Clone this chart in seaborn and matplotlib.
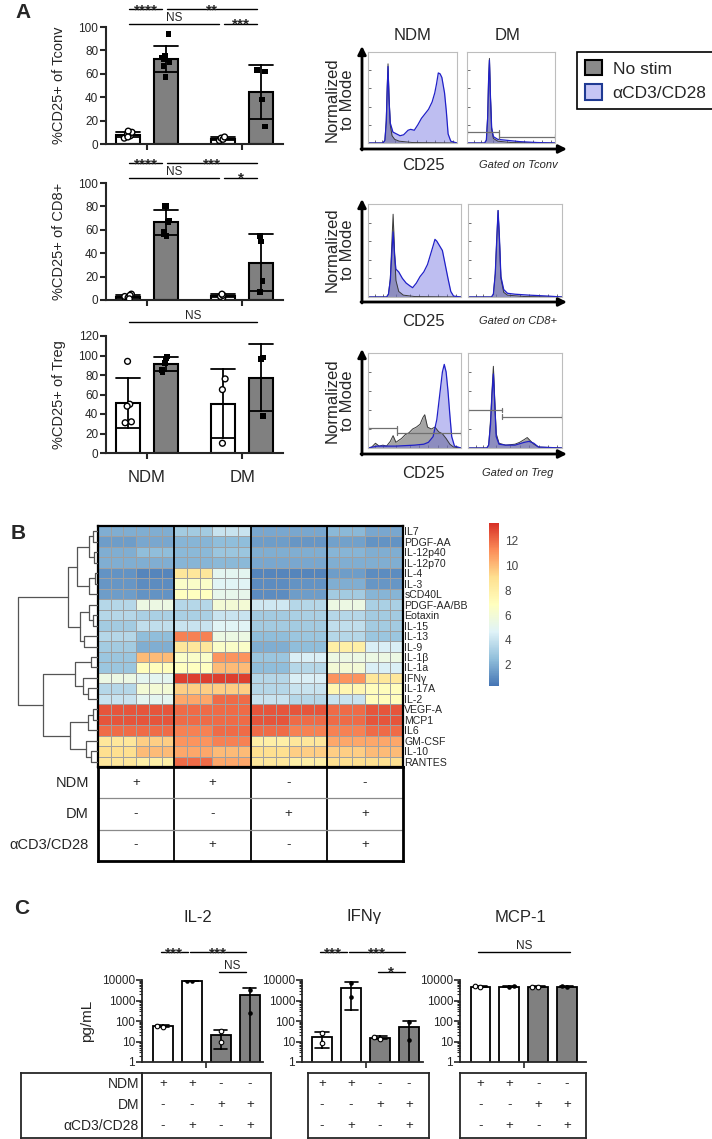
import numpy as np
import pandas as pd
import matplotlib
matplotlib.use("Agg")
import matplotlib.pyplot as plt
import matplotlib.transforms as mtrans
from matplotlib.colors import LinearSegmentedColormap
from matplotlib.patches import Patch
from matplotlib.ticker import FuncFormatter, LogLocator, NullFormatter
import seaborn as sns

# ---------------- data : panel A bars ----------------
groups = ["NDM", "DM"]
stims = ["No stim", "αCD3/CD28"]

tconv_ndm_nostim = [5, 7, 8, 9, 10, 11, 6]
tconv_ndm_stim = [94, 75, 74, 73, 70, 67, 57]
tconv_dm_nostim = [3, 5, 4, 6]
tconv_dm_stim = [62, 63, 38, 15]

cd8_ndm_nostim = [1, 2, 5, 3, 2, 4, 1]
cd8_ndm_stim = [80, 80, 68, 67, 56, 55, 58]
cd8_dm_nostim = [2, 3, 4, 5]
cd8_dm_stim = [50, 55, 16, 7]

treg_ndm_nostim = [94, 50, 48, 32, 31]
treg_ndm_stim = [99, 97, 92, 85, 83]
treg_dm_nostim = [76, 65, 10]
treg_dm_stim = [98, 96, 38]

# ---------------- data : panel A flow histograms (fraction of box) ----------------
tconv_ndm_gray_x = [0, 0.17, 0.19, 0.205, 0.215, 0.225, 0.235, 0.25, 0.27, 0.3, 0.35, 0.5, 1.0]
tconv_ndm_gray_y = [0, 0, 0.03, 0.25, 0.6, 0.87, 0.55, 0.2, 0.08, 0.04, 0.02, 0.005, 0]
tconv_ndm_blue_x = [0, 0.17, 0.19, 0.205, 0.215, 0.225, 0.235, 0.25, 0.28, 0.32, 0.36, 0.4, 0.45, 0.48,
                    0.52, 0.56, 0.6, 0.64, 0.68, 0.72, 0.75, 0.77, 0.79, 0.81, 0.83, 0.86, 0.88, 0.9, 0.93, 1.0]
tconv_ndm_blue_y = [0, 0, 0.03, 0.22, 0.55, 0.84, 0.5, 0.22, 0.12, 0.1, 0.08, 0.09, 0.14, 0.15,
                    0.14, 0.2, 0.27, 0.32, 0.37, 0.45, 0.55, 0.65, 0.77, 0.76, 0.72, 0.55, 0.35, 0.1, 0.02, 0]
tconv_dm_gray_x = [0, 0.2, 0.22, 0.235, 0.245, 0.255, 0.265, 0.28, 0.3, 0.35, 0.5, 1]
tconv_dm_gray_y = [0, 0, 0.03, 0.3, 0.7, 0.93, 0.55, 0.15, 0.05, 0.02, 0.005, 0]
tconv_dm_blue_x = [0, 0.2, 0.22, 0.235, 0.245, 0.255, 0.265, 0.28, 0.3, 0.35, 0.45, 0.6, 0.8, 1]
tconv_dm_blue_y = [0, 0, 0.03, 0.28, 0.68, 0.91, 0.55, 0.17, 0.07, 0.04, 0.03, 0.015, 0.005, 0]
tconv_dm_gates = [(0.0, 0.36, 0.12), (0.36, 1.0, 0.07)]

cd8_ndm_gray_x = [0, 0.2, 0.22, 0.24, 0.255, 0.27, 0.285, 0.3, 0.33, 0.38, 0.5, 1]
cd8_ndm_gray_y = [0, 0, 0.03, 0.2, 0.55, 0.89, 0.5, 0.18, 0.06, 0.02, 0.005, 0]
cd8_ndm_blue_x = [0, 0.2, 0.22, 0.24, 0.255, 0.27, 0.285, 0.3, 0.33, 0.37, 0.41, 0.45, 0.48, 0.52, 0.56,
                  0.6, 0.64, 0.67, 0.7, 0.72, 0.74, 0.77, 0.8, 0.83, 0.86, 0.89, 0.92, 1]
cd8_ndm_blue_y = [0, 0, 0.03, 0.18, 0.45, 0.7, 0.45, 0.3, 0.27, 0.2, 0.15, 0.12, 0.1, 0.15, 0.22,
                  0.27, 0.35, 0.45, 0.55, 0.62, 0.6, 0.55, 0.5, 0.35, 0.2, 0.06, 0.01, 0]
cd8_dm_gray_x = [0, 0.25, 0.27, 0.29, 0.305, 0.32, 0.335, 0.35, 0.38, 0.42, 0.6, 1]
cd8_dm_gray_y = [0, 0, 0.03, 0.25, 0.6, 0.93, 0.6, 0.2, 0.05, 0.02, 0.005, 0]
cd8_dm_blue_x = [0, 0.25, 0.27, 0.29, 0.305, 0.32, 0.335, 0.35, 0.38, 0.42, 0.5, 0.65, 0.85, 1]
cd8_dm_blue_y = [0, 0, 0.03, 0.25, 0.6, 0.93, 0.62, 0.22, 0.08, 0.04, 0.03, 0.02, 0.01, 0]

treg_ndm_gray_x = [0, 0.04, 0.08, 0.12, 0.16, 0.2, 0.24, 0.27, 0.3, 0.33, 0.36, 0.4, 0.44, 0.48, 0.52,
                   0.56, 0.59, 0.61, 0.64, 0.68, 0.72, 0.76, 0.8, 0.84, 0.88, 0.92, 1]
treg_ndm_gray_y = [0, 0.01, 0.05, 0.02, 0.03, 0.02, 0.07, 0.13, 0.06, 0.08, 0.1, 0.14, 0.16, 0.2, 0.22,
                   0.25, 0.32, 0.35, 0.22, 0.2, 0.22, 0.17, 0.15, 0.1, 0.04, 0.01, 0]
treg_ndm_blue_x = [0, 0.1, 0.3, 0.5, 0.6, 0.65, 0.7, 0.74, 0.77, 0.8, 0.82, 0.84, 0.86, 0.88, 0.9, 0.93, 1]
treg_ndm_blue_y = [0, 0.02, 0.02, 0.03, 0.04, 0.06, 0.12, 0.3, 0.55, 0.8, 0.88, 0.8, 0.6, 0.35, 0.12, 0.02, 0]
treg_ndm_gates = [(0.0, 0.31, 0.21), (0.31, 1.0, 0.16)]
treg_dm_gray_x = [0, 0.2, 0.22, 0.24, 0.255, 0.27, 0.285, 0.3, 0.33, 0.4, 0.5, 0.55, 0.6, 0.63, 0.66, 0.7, 0.75, 1]
treg_dm_gray_y = [0, 0, 0.03, 0.3, 0.6, 0.86, 0.5, 0.15, 0.05, 0.03, 0.04, 0.06, 0.09, 0.11, 0.08, 0.04, 0.01, 0]
treg_dm_blue_x = [0, 0.2, 0.22, 0.24, 0.255, 0.27, 0.285, 0.3, 0.33, 0.4, 0.5, 0.6, 0.65, 0.7, 0.75, 1]
treg_dm_blue_y = [0, 0, 0.03, 0.25, 0.55, 0.78, 0.45, 0.12, 0.04, 0.03, 0.03, 0.06, 0.07, 0.05, 0.01, 0]
treg_dm_gates = [(0.0, 0.36, 0.40), (0.36, 1.0, 0.33)]

# ---------------- data : panel B heatmap ----------------
heat_rows = ["IL7", "PDGF-AA", "IL-12p40", "IL-12p70", "IL-4", "IL-3", "sCD40L", "PDGF-AA/BB",
             "Eotaxin", "IL-15", "IL-13", "IL-9", "IL-1β", "IL-1a", "IFNγ", "IL-17A", "IL-2",
             "VEGF-A", "MCP1", "IL6", "GM-CSF", "IL-10", "RANTES"]
# one value per triplicate block: NDM-a, NDM-b, NDM+S-a, NDM+S-b, DM-a, DM-b, DM+S-a, DM+S-b
heat_triplets = [
    [2.0, 2.0, 3.0, 4.0, 1.8, 1.8, 2.3, 1.8],
    [1.5, 1.8, 2.2, 2.5, 1.5, 1.3, 1.6, 1.2],
    [2.0, 2.5, 2.3, 2.8, 2.0, 2.0, 2.2, 2.0],
    [2.0, 2.0, 2.2, 2.3, 1.8, 1.8, 2.0, 2.0],
    [1.2, 0.8, 8.5, 5.0, 0.8, 0.8, 1.5, 1.0],
    [1.3, 1.0, 6.5, 4.8, 1.0, 1.2, 2.0, 1.3],
    [1.5, 1.2, 6.8, 5.2, 1.0, 1.5, 3.0, 2.2],
    [3.5, 5.5, 3.5, 6.0, 4.2, 3.5, 5.5, 3.2],
    [3.5, 3.2, 3.2, 4.0, 3.0, 3.2, 3.5, 3.0],
    [3.0, 3.8, 4.0, 4.8, 3.0, 3.0, 3.8, 3.0],
    [3.5, 2.5, 11.5, 5.5, 2.5, 2.8, 3.5, 2.8],
    [3.0, 2.0, 8.5, 6.5, 2.0, 2.5, 8.0, 4.5],
    [2.8, 10.0, 6.5, 11.0, 2.8, 4.5, 5.5, 5.5],
    [2.8, 7.0, 6.8, 10.0, 2.5, 3.5, 6.0, 4.5],
    [5.5, 5.0, 13.0, 13.0, 3.5, 4.5, 11.0, 8.5],
    [3.5, 6.0, 9.5, 9.5, 3.5, 4.0, 7.5, 7.0],
    [4.0, 5.0, 10.5, 12.0, 4.0, 3.5, 4.0, 7.0],
    [12.5, 12.5, 12.0, 12.0, 12.5, 12.5, 12.0, 12.5],
    [12.5, 12.5, 12.0, 12.0, 12.5, 12.0, 12.0, 12.5],
    [12.0, 12.0, 11.5, 12.0, 12.0, 11.5, 11.5, 12.0],
    [8.5, 9.5, 11.0, 11.5, 8.0, 8.5, 10.5, 10.5],
    [9.0, 10.0, 10.5, 10.0, 9.0, 9.5, 9.5, 10.0],
    [8.5, 8.0, 12.0, 10.5, 8.5, 8.0, 9.0, 9.0],
]
# (node, child a, child b, merge height)
dendro_merges = [
    ("a1", "IL7", "PDGF-AA", 5), ("a2", "IL-12p40", "IL-12p70", 4), ("a3", "a1", "a2", 9),
    ("a4", "IL-4", "IL-3", 3), ("a5", "a4", "sCD40L", 9), ("a6", "a3", "a5", 21),
    ("a7", "Eotaxin", "IL-15", 5), ("a8", "PDGF-AA/BB", "a7", 9), ("a9", "IL-13", "IL-9", 14),
    ("a10", "a8", "a9", 18), ("a11", "a6", "a10", 30),
    ("b1", "IL-1β", "IL-1a", 7), ("b2", "IL-17A", "IL-2", 10), ("b3", "IFNγ", "b2", 15),
    ("b4", "b1", "b3", 23), ("b5", "VEGF-A", "MCP1", 5), ("b6", "b5", "IL6", 10),
    ("b7", "IL-10", "RANTES", 7), ("b8", "GM-CSF", "b7", 12), ("b9", "b6", "b8", 28),
    ("b10", "b4", "b9", 55), ("root", "a11", "b10", 80),
]
b_table_rows = ["NDM", "DM", "αCD3/CD28"]
b_ndm = ["+", "+", "-", "-"]
b_dm = ["-", "-", "+", "+"]
b_cd3 = ["-", "+", "-", "+"]

# ---------------- data : panel C ----------------
c_conditions = ["NDM", "NDM+αCD3/CD28", "DM", "DM+αCD3/CD28"]
il2_values = [[52, 60], [9200, 9300], [9, 31], [3300, 250]]
ifng_values = [[25, 8.5], [7000, 1500], [14, 17], [85, 12]]
mcp1_values = [[4700, 4900], [4600, 5000], [4700, 4800], [4700, 4900]]
c_titles = ["IL-2", "IFNγ", "MCP-1"]

# ---------------- figure ----------------
sns.set_style("ticks")
plt.rcParams["font.family"] = ["Liberation Sans", "DejaVu Sans"]
np.random.seed(7)
W, H = 712, 1139
fig = plt.figure(figsize=(W / 100, H / 100), dpi=100)


def axpx(x0, y0, x1, y1, **kw):
    return fig.add_axes([x0 / W, 1 - y1 / H, (x1 - x0) / W, (y1 - y0) / H], **kw)


def ftext(x, y, s, **kw):
    return fig.text(x / W, 1 - y / H, s, **kw)


def bracket(ax, xa, xb, yfrac, label):
    tr = mtrans.blended_transform_factory(ax.transData, ax.transAxes)
    ax.plot([xa, xb], [yfrac, yfrac], transform=tr, color="black", lw=1.0, clip_on=False)
    if "*" in label:
        ax.annotate(label, xy=((xa + xb) / 2, yfrac), xycoords=tr, xytext=(0, -3.6),
                    textcoords="offset points", ha="center", va="baseline",
                    fontsize=11, fontweight="bold", annotation_clip=False)
    else:
        ax.annotate(label, xy=((xa + xb) / 2, yfrac), xycoords=tr, xytext=(0, 2),
                    textcoords="offset points", ha="center", va="baseline",
                    fontsize=8.5, annotation_clip=False)


# ---------- panel A bars ----------
def a_frame(d):
    rows = []
    for (g, s), vals in d.items():
        for v in vals:
            rows.append((g, s, v))
    return pd.DataFrame(rows, columns=["group", "stim", "value"])


a_sets = [
    ({("NDM", stims[0]): tconv_ndm_nostim, ("NDM", stims[1]): tconv_ndm_stim,
      ("DM", stims[0]): tconv_dm_nostim, ("DM", stims[1]): tconv_dm_stim},
     (106, 27, 283, 144), 100, 20, "%CD25+ of Tconv", False,
     [(0, 1, "****", 1.154), (1, 3, "**", 1.154), (0, 2, "NS", 1.026), (2, 3, "***", 1.026)]),
    ({("NDM", stims[0]): cd8_ndm_nostim, ("NDM", stims[1]): cd8_ndm_stim,
      ("DM", stims[0]): cd8_dm_nostim, ("DM", stims[1]): cd8_dm_stim},
     (106, 183, 283, 300), 100, 20, "%CD25+ of CD8+", False,
     [(0, 1, "****", 1.17), (1, 3, "***", 1.17), (0, 2, "NS", 1.047), (2, 3, "*", 1.047)]),
    ({("NDM", stims[0]): treg_ndm_nostim, ("NDM", stims[1]): treg_ndm_stim,
      ("DM", stims[0]): treg_dm_nostim, ("DM", stims[1]): treg_dm_stim},
     (106, 336, 283, 453), 120, 20, "%CD25+ of Treg", True,
     [(0, 3, "NS", 1.12)]),
]
bar_pos = [-0.2, 0.2, 0.8, 1.2]

for d, box, ymax, step, ylabel, show_lab, brs in a_sets:
    ax = axpx(*box)
    df = a_frame(d)
    sns.barplot(data=df, x="group", y="value", hue="stim", order=groups, hue_order=stims,
                palette={stims[0]: "white", stims[1]: "#808080"}, saturation=1,
                errorbar="sd", capsize=0.5, err_kws={"color": "black", "linewidth": 1.3},
                width=0.8, gap=0.35, edgecolor="black", linewidth=1.5, ax=ax, legend=False)
    sns.stripplot(data=df[df.stim == stims[0]], x="group", y="value", hue="stim", order=groups,
                  hue_order=stims, dodge=True, jitter=0.09,
                  palette={stims[0]: "white", stims[1]: "black"},
                  marker="o", size=4.2, edgecolor="black", linewidth=1.0, ax=ax, legend=False)
    sns.stripplot(data=df[df.stim == stims[1]], x="group", y="value", hue="stim", order=groups,
                  hue_order=stims, dodge=True, jitter=0.09,
                  palette={stims[0]: "white", stims[1]: "black"},
                  marker="s", size=4.2, linewidth=0, ax=ax, legend=False)
    ax.set_xlim(-0.43, 1.43)
    ax.set_ylim(0, ymax)
    ax.set_yticks(list(range(0, ymax + 1, step)))
    ax.set_xlabel("")
    ax.set_ylabel(ylabel, fontsize=10.5)
    ax.yaxis.set_label_coords(-0.225, 0.5)
    sns.despine(ax=ax)
    for sp in ["left", "bottom"]:
        ax.spines[sp].set_linewidth(1.5)
    ax.tick_params(width=1.5, length=4, labelsize=8.5, pad=1.5)
    ax.set_xticks([0, 1])
    if show_lab:
        ax.set_xticklabels(groups, fontsize=12)
        ax.tick_params(axis="x", pad=8)
    else:
        ax.set_xticklabels(["", ""])
    for i, j, lab, yf in brs:
        bracket(ax, bar_pos[i] + 0.01, bar_pos[j] - 0.04, yf, lab)


# ---------- panel A flow ----------
def flow_box(box, gx, gy, bx, by, gates=None):
    ax = axpx(*box)
    ax.fill_between(gx, gy, color="#6a6a6a", alpha=0.6, lw=0)
    ax.plot(gx, gy, color="#3a3a3a", lw=0.7)
    ax.fill_between(bx, by, color="#7070e0", alpha=0.45, lw=0)
    ax.plot(bx, by, color="#2020c8", lw=0.9)
    if gates:
        for xa, xb, h in gates:
            ax.plot([xa, xb], [h, h], color="#707070", lw=0.9)
            ax.plot([xa, xa], [h - 0.025, h + 0.025], color="#707070", lw=0.9)
            ax.plot([xb, xb], [h - 0.025, h + 0.025], color="#707070", lw=0.9)
    ax.set_xlim(0, 1)
    ax.set_ylim(0, 1)
    ax.set_facecolor("none")
    for sp in ax.spines.values():
        sp.set_color("#bdbdbd")
        sp.set_linewidth(0.8)
    ax.set_xticks([0.08, 0.16, 0.3, 0.45, 0.55, 0.65, 0.75, 0.85, 0.95])
    ax.set_yticks([0.2, 0.4, 0.6, 0.8])
    ax.tick_params(direction="in", length=2, width=0.6, color="#555555",
                   labelbottom=False, labelleft=False)
    return ax


flow_box((368, 52, 457, 143), tconv_ndm_gray_x, tconv_ndm_gray_y, tconv_ndm_blue_x, tconv_ndm_blue_y)
flow_box((467, 52, 555, 143), tconv_dm_gray_x, tconv_dm_gray_y, tconv_dm_blue_x, tconv_dm_blue_y,
         tconv_dm_gates)
flow_box((368, 204, 461, 297), cd8_ndm_gray_x, cd8_ndm_gray_y, cd8_ndm_blue_x, cd8_ndm_blue_y)
flow_box((468, 204, 562, 297), cd8_dm_gray_x, cd8_dm_gray_y, cd8_dm_blue_x, cd8_dm_blue_y)
flow_box((368, 353, 461, 448), treg_ndm_gray_x, treg_ndm_gray_y, treg_ndm_blue_x, treg_ndm_blue_y,
         treg_ndm_gates)
flow_box((468, 353, 562, 448), treg_dm_gray_x, treg_dm_gray_y, treg_dm_blue_x, treg_dm_blue_y,
         treg_dm_gates)

# ---------- panel B heatmap ----------
heat = np.repeat(np.array(heat_triplets), 3, axis=1)
df_heat = pd.DataFrame(heat, index=heat_rows)
cmap = LinearSegmentedColormap.from_list(
    "pheat", ["#4575B4", "#91BFDB", "#E0F3F8", "#FFFFBF", "#FEE090", "#FC8D59", "#D73027"])

hax = axpx(98, 526, 403, 767)
cax = axpx(489, 523, 499, 686)
sns.heatmap(df_heat, ax=hax, cmap=cmap, vmin=0.3, vmax=13.4, cbar_ax=cax,
            linewidths=0.5, linecolor="#a0a0a0", xticklabels=False, yticklabels=heat_rows)
hax.yaxis.tick_right()
hax.set_yticklabels(heat_rows, rotation=0, fontsize=7.6)
hax.tick_params(axis="y", length=0, pad=1)
hax.set_ylabel("")
for xg in [6, 12, 18]:
    hax.axvline(xg, color="black", lw=1.3)
for sp in hax.spines.values():
    sp.set_visible(True)
    sp.set_linewidth(1.6)
    sp.set_color("black")
cbar = hax.collections[0].colorbar
cbar.outline.set_visible(False)
cax.set_yticks([2, 4, 6, 8, 10, 12])
cax.tick_params(length=0, labelsize=8.5, labelcolor="#444444", pad=4)

# dendrogram
dax = axpx(16, 526, 98, 767)
node_y = {r: i + 0.5 for i, r in enumerate(heat_rows)}
node_h = {r: 0 for r in heat_rows}
for node, a, b, h in dendro_merges:
    dax.plot([node_h[a], h, h, node_h[b]], [node_y[a], node_y[a], node_y[b], node_y[b]],
             color="#555555", lw=0.9)
    node_y[node] = (node_y[a] + node_y[b]) / 2
    node_h[node] = h
dax.set_xlim(82, 0)
dax.set_ylim(len(heat_rows), 0)
dax.axis("off")

# table under heatmap
tax = axpx(98, 767, 403, 861)
tax.set_xlim(0, 24)
tax.set_ylim(3, 0)
tax.set_xticks([])
tax.set_yticks([])
for sp in tax.spines.values():
    sp.set_linewidth(2)
    sp.set_color("black")
for xg in [6, 12, 18]:
    tax.axvline(xg, color="black", lw=1.3)
for yg in [1, 2]:
    tax.axhline(yg, color="#8a8a8a", lw=0.9)
btr = mtrans.blended_transform_factory(hax.transData, tax.transData)
ltr = mtrans.blended_transform_factory(tax.transAxes, tax.transData)
for r, (lab, syms) in enumerate(zip(b_table_rows, [b_ndm, b_dm, b_cd3])):
    tax.text(-0.03, r + 0.5, lab, transform=ltr, ha="right", va="center", fontsize=10.5)
    for k, s in enumerate(syms):
        tax.text(6 * k + 3, r + 0.5, s, transform=btr, ha="center", va="center", fontsize=9.5)

# ---------- panel C ----------
c_boxes = [(142, 980, 263, 1062), (302, 980, 423, 1062), (460, 980, 586, 1062)]
c_xlims = [(-0.72, 3.45), (-0.69, 3.48), (-0.71, 3.66)]
c_tables = [(142, 271), (308, 429), (460, 586)]
c_title_x = [198, 364, 520]
c_brackets = [
    [(0, 1, "***", 1.34), (1, 3, "***", 1.34), (2, 3, "NS", 1.10)],
    [(0, 1, "***", 1.34), (1, 3, "***", 1.34), (2, 3, "*", 1.10)],
    [(0, 3, "NS", 1.34)],
]
c_pal = dict(zip(c_conditions, ["white", "white", "#808080", "#808080"]))
for idx, vals in enumerate([il2_values, ifng_values, mcp1_values]):
    ax = axpx(*c_boxes[idx])
    df = pd.DataFrame([(c, v) for c, vs in zip(c_conditions, vals) for v in vs],
                      columns=["cond", "value"])
    sns.barplot(data=df, x="cond", y="value", hue="cond", order=c_conditions,
                hue_order=c_conditions, palette=c_pal, saturation=1, errorbar="sd",
                capsize=0.45, err_kws={"color": "black", "linewidth": 1.2}, width=0.69,
                edgecolor="black", linewidth=1.3, ax=ax, legend=False)
    sns.swarmplot(data=df[df.cond.isin([c_conditions[0], c_conditions[2]])], x="cond", y="value",
                  order=c_conditions, color="white", edgecolor="black", linewidth=0.8, size=3.3, ax=ax)
    sns.swarmplot(data=df[df.cond.isin([c_conditions[1], c_conditions[3]])], x="cond", y="value",
                  order=c_conditions, color="black", size=3.3, linewidth=0, ax=ax)
    ax.set_yscale("log")
    ax.set_ylim(1, 10000)
    ax.set_xlim(*c_xlims[idx])
    ax.yaxis.set_major_locator(LogLocator(base=10, numticks=10))
    ax.yaxis.set_minor_locator(LogLocator(base=10, subs=np.arange(2, 10), numticks=20))
    ax.yaxis.set_minor_formatter(NullFormatter())
    ax.yaxis.set_major_formatter(FuncFormatter(lambda v, p: f"{v:g}"))
    ax.set_xticks([1.5])
    ax.set_xticklabels([""])
    ax.set_xlabel("")
    ax.set_ylabel("pg/mL" if idx == 0 else "", fontsize=11)
    if idx == 0:
        ax.yaxis.set_label_coords(-0.40, 0.5)
    sns.despine(ax=ax)
    for sp in ["left", "bottom"]:
        ax.spines[sp].set_linewidth(1.3)
    ax.tick_params(axis="both", which="major", width=1.2, length=4, labelsize=8.5, pad=1)
    ax.tick_params(axis="y", which="minor", width=0.8, length=2)
    for i, j, lab, yf in c_brackets[idx]:
        bracket(ax, i - 0.08, j - 0.15 if idx < 2 else j + 0.1, yf, lab)
    ftext(c_title_x[idx], 917, c_titles[idx], ha="center", va="center", fontsize=12)

    # table below
    tx0, tx1 = c_tables[idx]
    if idx == 0:
        lax = axpx(21, 1073, tx0, 1138)
        lax.set_xticks([])
        lax.set_yticks([])
        lax.patch.set_alpha(0)
        for sp in lax.spines.values():
            sp.set_linewidth(1.3)
        for r, lab in enumerate(b_table_rows):
            lax.text(0.975, [0.83, 0.51, 0.18][r], lab, transform=lax.transAxes,
                     ha="right", va="center", fontsize=10)
    tb = axpx(tx0, 1073, tx1, 1138)
    tb.set_xticks([])
    tb.set_yticks([])
    tb.patch.set_alpha(0)
    for sp in tb.spines.values():
        sp.set_linewidth(1.3)
    ttr = mtrans.blended_transform_factory(ax.transData, tb.transAxes)
    for r, syms in enumerate([b_ndm, b_dm, b_cd3]):
        for k, s in enumerate(syms):
            tb.text(k, [0.83, 0.51, 0.18][r], s, transform=ttr, ha="center", va="center",
                    fontsize=9.5)

# ---------- legend, arrows, labels ----------
handles = [Patch(facecolor="#8a8a8a", edgecolor="black", linewidth=1.5, label=stims[0]),
           Patch(facecolor="#c5c5f5", edgecolor="#1f3a93", linewidth=1.5, label=stims[1])]
leg = fig.legend(handles=handles, loc="upper left", bbox_to_anchor=(577 / W, 1 - 52 / H),
                 fontsize=12.5, frameon=True, fancybox=False, edgecolor="black", framealpha=1,
                 handlelength=1.0, handleheight=1.0, borderpad=0.45, labelspacing=0.45,
                 handletextpad=0.6, borderaxespad=0)
leg.get_frame().set_linewidth(1.2)

ov = fig.add_axes([0, 0, 1, 1])
ov.set_xlim(0, W)
ov.set_ylim(H, 0)
ov.axis("off")
ov.patch.set_alpha(0)
for base, top in [(149, 46), (302, 199), (454, 349)]:
    ov.annotate("", xy=(362, top), xytext=(362, base + 1),
                arrowprops=dict(arrowstyle="-|>", lw=2, color="black", mutation_scale=12,
                                shrinkA=0, shrinkB=0))
    ov.annotate("", xy=(567, base), xytext=(361, base),
                arrowprops=dict(arrowstyle="-|>", lw=2, color="black", mutation_scale=12,
                                shrinkA=0, shrinkB=0))

ftext(413, 35, "NDM", ha="center", va="center", fontsize=12)
ftext(508, 35, "DM", ha="center", va="center", fontsize=12)
for yc, yt, gate in [(100, 165, "Gated on Tconv"), (250, 321, "Gated on CD8+"), (401, 473, "Gated on Treg")]:
    ftext(340, yc, "Normalized\nto Mode", rotation=90, ha="center", va="center", fontsize=12,
          linespacing=1.0)
    ftext(423, yt, "CD25", ha="center", va="center", fontsize=12)
    ftext(518, yt, gate, ha="center", va="center", fontsize=8, style="italic")

ftext(23, 12, "A", ha="center", va="center", fontsize=15, fontweight="bold")
ftext(18, 533, "B", ha="center", va="center", fontsize=15, fontweight="bold")
ftext(22, 908, "C", ha="center", va="center", fontsize=15, fontweight="bold")

fig.savefig("out.png", dpi=100)
